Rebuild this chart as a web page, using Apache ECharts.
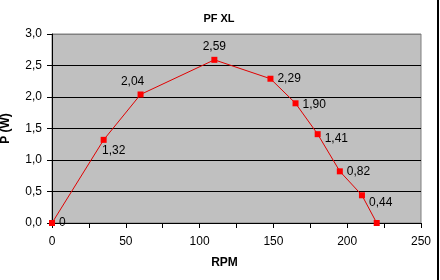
<!DOCTYPE html>
<html>
<head>
<meta charset="utf-8">
<script src="https://cdn.jsdelivr.net/npm/echarts@6/dist/echarts.min.js"></script>
<style>
    html, body { margin: 0; padding: 0; background: #fff; }
    #chartMain { width: 440px; height: 280px; }
</style>
</head>
<body>
<div id="chartMain"></div>
<script>
    // data
    let rpm = [0, 35, 60, 110, 148, 165, 180, 195, 210, 220];
    let power = [0, 1.32, 2.04, 2.59, 2.29, 1.90, 1.41, 0.82, 0.44, 0];
    // where each value label sits (null = no label)
    let labelPos = ['right', 'bottom', 'top', 'top', 'right', 'right', 'right', 'right', 'right', null];
    let labelOffset = [[0, 0], [10, -2], [-8, 0], [0, 0], [0, 0], [0, 1], [0, 5], [0, 0], [0, 7], [0, 0]];

    let comma = (v, d) => v.toFixed(d).replace('.', ',');
    let font = '"Liberation Sans", Arial, sans-serif';

    let seriesData = rpm.map((x, i) => ({
        value: [x, power[i]],
        label: labelPos[i] ? {
            show: true,
            position: labelPos[i],
            offset: labelOffset[i],
            distance: 4,
            formatter: power[i] === 0 ? '0' : comma(power[i], 2)
        } : {show: false}
    }));

    let myChart = echarts.init(document.getElementById('chartMain'));
    myChart.setOption({
        animation: false,
        textStyle: {fontFamily: font},
        title: {
            text: 'PF XL',
            left: 214,
            top: 8,
            textAlign: 'center',
            textStyle: {fontSize: 11, fontWeight: 'bold', color: '#000', fontFamily: font}
        },
        grid: {
            left: 52, top: 34, width: 369, height: 189,
            outerBoundsMode: 'none',
            containLabel: false,
            show: true,
            backgroundColor: '#C0C0C0',
            borderColor: '#808080',
            borderWidth: 1
        },
        xAxis: {
            type: 'value',
            min: 0, max: 250, interval: 25,
            name: 'RPM',
            nameLocation: 'middle',
            nameGap: 34,
            nameTextStyle: {fontSize: 12, fontWeight: 'bold', color: '#000', padding: [0, 24, 0, 0]},
            axisLine: {show: true, lineStyle: {color: '#000', width: 1}},
            axisTick: {show: true, inside: false, length: 5, lineStyle: {color: '#000'}},
            axisLabel: {
                color: '#000', fontSize: 12, margin: 13,
                formatter: v => (v % 50 === 0 ? String(v) : '')
            },
            splitLine: {show: false}
        },
        yAxis: {
            type: 'value',
            min: 0, max: 3, interval: 0.5,
            name: 'P (W)',
            nameLocation: 'middle',
            nameGap: 40,
            nameTextStyle: {fontSize: 12, fontWeight: 'bold', color: '#000'},
            axisLine: {show: true, lineStyle: {color: '#000', width: 1}},
            axisTick: {show: true, inside: false, length: 5, lineStyle: {color: '#000'}},
            axisLabel: {color: '#000', fontSize: 12, margin: 10, formatter: v => comma(v, 1)},
            splitLine: {
                show: true,
                lineStyle: {color: ['#000', '#000', '#000', '#000', '#000', '#000', '#808080'], width: 1}
            }
        },
        series: [{
            type: 'line',
            data: seriesData,
            symbol: 'rect',
            symbolSize: 6,
            itemStyle: {color: '#FF0000'},
            lineStyle: {color: '#E00000', width: 1},
            label: {color: '#000', fontSize: 12, fontFamily: font},
            z: 5
        }],
        graphic: [{
            type: 'rect',
            shape: {x: 437, y: 0, width: 2, height: 280},
            style: {fill: '#000'}
        }]
    });
</script>
</body>
</html>
